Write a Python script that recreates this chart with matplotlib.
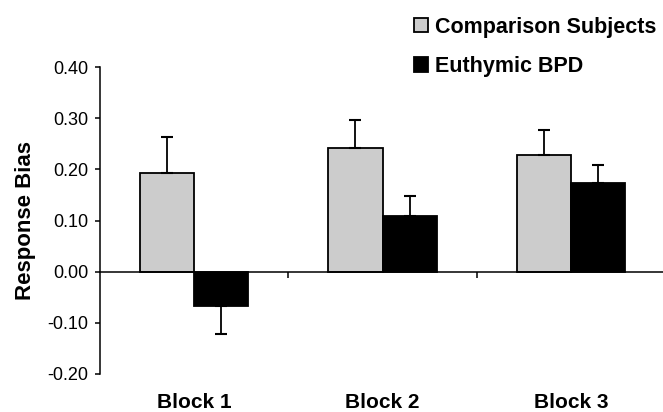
import numpy as np
import matplotlib
matplotlib.use("Agg")
import matplotlib.pyplot as plt

plt.rcParams['font.family'] = ['Liberation Sans', 'DejaVu Sans']

blocks = ["Block 1", "Block 2", "Block 3"]
groups = ["Comparison Subjects", "Euthymic BPD"]
comparison = [0.192, 0.241, 0.228]
comparison_err = [0.072, 0.055, 0.048]
bpd = [-0.068, 0.108, 0.173]
bpd_err = [0.053, 0.040, 0.035]
colors = ["#cccccc", "#000000"]

fig = plt.figure(figsize=(6.63, 4.12), dpi=100)
ax = fig.add_axes([100 / 663, 38 / 412, 565 / 663, 307 / 412])

x = np.arange(len(blocks))
w = 0.288

for i, (vals, errs) in enumerate([(comparison, comparison_err), (bpd, bpd_err)]):
    pos = x + (i - 0.5) * w
    vals = np.array(vals)
    errs = np.array(errs)
    ax.bar(pos, vals, w, color=colors[i], edgecolor="black", linewidth=1.3,
           label=groups[i], zorder=2)
    # one-sided error bars, pointing away from zero
    lower = np.where(vals < 0, errs, 0)
    upper = np.where(vals >= 0, errs, 0)
    ax.errorbar(pos, vals, yerr=[lower, upper], fmt="none", ecolor="black",
                elinewidth=1.3, capsize=4.5, capthick=1.5, zorder=3)

ax.set_xlim(-0.5, 2.5)
ax.set_ylim(-0.2, 0.4)
ax.set_yticks(np.arange(-0.2, 0.41, 0.1))
ax.set_yticklabels([f"{v:.2f}" for v in np.arange(-0.2, 0.41, 0.1)], fontsize=13)
ax.tick_params(axis="y", direction="out", length=3.5, width=1.1, pad=5)

# x axis sits on zero with separators between blocks
ax.spines["bottom"].set_position(("data", 0))
ax.spines["top"].set_visible(False)
ax.spines["right"].set_visible(False)
ax.spines["left"].set_linewidth(1.1)
ax.spines["bottom"].set_linewidth(1.1)
ax.set_xticks([0.5, 1.5])
ax.set_xticklabels([])
ax.tick_params(axis="x", direction="out", length=4.5, width=1.1)

for xi, name in zip(x, blocks):
    ax.text(xi, -0.092, name, transform=ax.get_xaxis_transform(),
            ha="center", va="center", fontsize=15, fontweight="bold")

ax.set_ylabel("Response Bias", fontsize=16, fontweight="bold", labelpad=8)

ax.legend(loc="upper left", bbox_to_anchor=(405 / 663, 1 - 8 / 412),
          bbox_transform=fig.transFigure, frameon=False,
          prop={"size": 15.5, "weight": "bold"}, handlelength=0.65,
          handleheight=0.65, handletextpad=0.35, labelspacing=0.85,
          borderaxespad=0)

fig.savefig("out.png", dpi=100)
